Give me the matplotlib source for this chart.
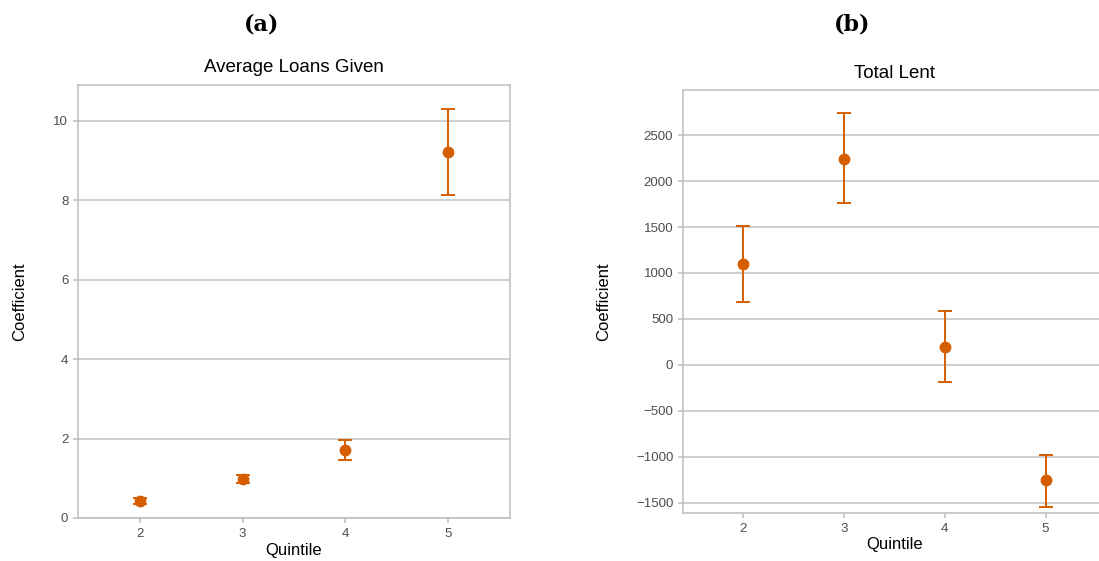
#!/usr/bin/env python3

import matplotlib
matplotlib.use('Agg')
import matplotlib.pyplot as plt
import numpy as np

matplotlib.rcParams['font.family'] = ['Liberation Sans', 'DejaVu Sans']

quintiles = [2, 3, 4, 5]

# (a) Average Loans Given
loans_coef = [0.43, 0.98, 1.70, 9.21]
loans_low = [0.36, 0.88, 1.45, 8.13]
loans_high = [0.50, 1.08, 1.96, 10.30]

# (b) Total Lent
lent_coef = [1100, 2245, 195, -1255]
lent_low = [685, 1758, -190, -1540]
lent_high = [1510, 2735, 585, -975]

orange = "#d55e00"
grid_gray = "#c2c2c2"
spine_gray = "#bdbdbd"
text_gray = "#4d4d4d"

fig = plt.figure(figsize=(10.99, 5.61), dpi=100)
W, H = 1099, 561

# axes positions in pixels: left, top, right, bottom
ax_a = fig.add_axes([78 / W, 1 - 518 / H, (510 - 78) / W, (518 - 85) / H])
ax_b = fig.add_axes([683 / W, 1 - 513 / H, (1106 - 683) / W, (513 - 90) / H])


def draw_panel(ax, coef, low, high, title, ylim, yticks, ytick_labels,
               ylabel_x):
    coef = np.array(coef)
    yerr = [coef - np.array(low), np.array(high) - coef]
    ax.errorbar(quintiles, coef, yerr=yerr, fmt='o', color=orange,
                markersize=7.5, elinewidth=1.4, capsize=5, capthick=1.4,
                zorder=3)
    ax.set_xlim(1.4, 5.6)
    ax.set_ylim(*ylim)
    ax.set_xticks(quintiles)
    ax.set_yticks(yticks)
    ax.set_yticklabels(ytick_labels)
    ax.grid(axis='y', color=grid_gray, linewidth=1.1)
    ax.set_axisbelow(True)
    for sp in ax.spines.values():
        sp.set_color(spine_gray)
        sp.set_linewidth(1.1)
    ax.tick_params(colors=spine_gray, labelcolor=text_gray, labelsize=9.5,
                   length=3.5, width=1.1)
    ax.set_xlabel('Quintile', fontsize=12, color='black', labelpad=2)
    ax.set_ylabel('Coefficient', fontsize=12, color='black')
    # label anchor is its right edge once rotated
    ax.yaxis.set_label_coords(ylabel_x, 0.5)
    ax.set_title(title, fontsize=13.5, color='black', pad=9)


draw_panel(ax_a, loans_coef, loans_low, loans_high, 'Average Loans Given',
           (0, 10.9), [0, 2, 4, 6, 8, 10], ['0', '2', '4', '6', '8', '10'],
           (27 - 78) / 432)
b_ticks = [-1500, -1000, -500, 0, 500, 1000, 1500, 2000, 2500]
draw_panel(ax_b, lent_coef, lent_low, lent_high, 'Total Lent',
           (-1610, 2990), b_ticks,
           [str(t).replace('-', '\u2212') for t in b_ticks],
           (611 - 683) / 423)

fig.text(262 / W, 1 - 25 / H, '(a)', fontsize=16, family='DejaVu Serif',
         weight='bold', ha='center', va='center')
fig.text(852 / W, 1 - 25 / H, '(b)', fontsize=16, family='DejaVu Serif',
         weight='bold', ha='center', va='center')

fig.savefig('out.png', dpi=100)
